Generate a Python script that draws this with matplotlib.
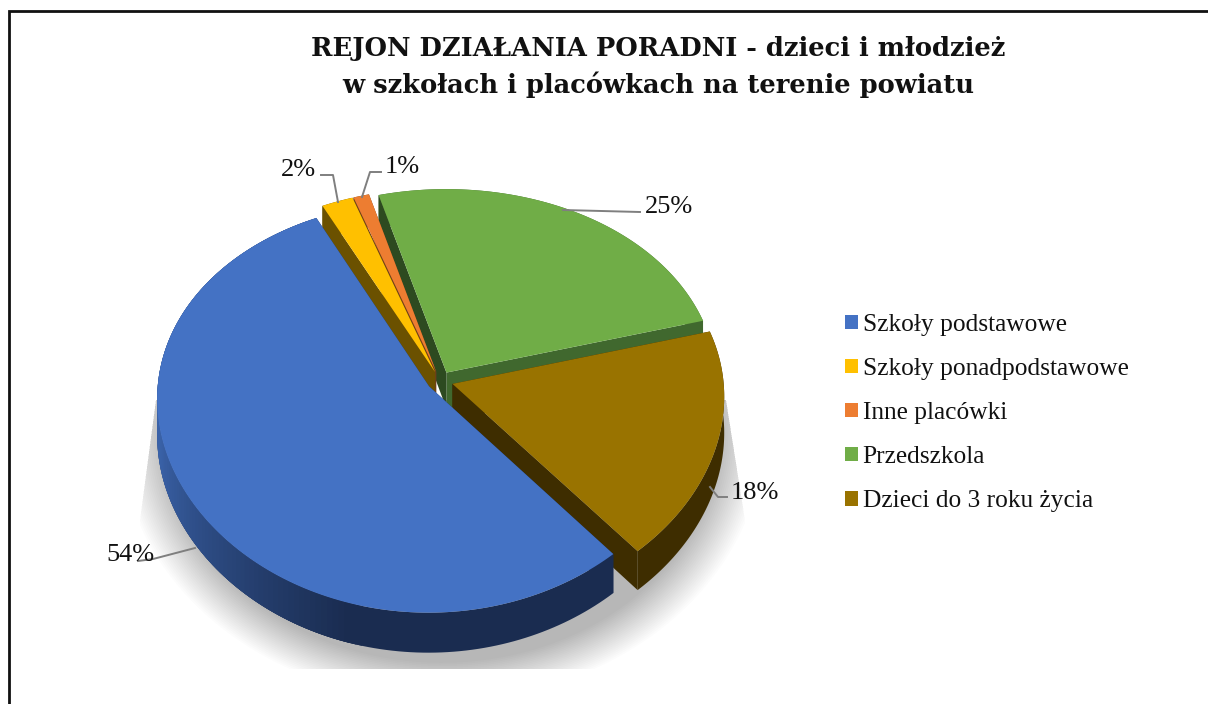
import numpy as np
import matplotlib
matplotlib.use('Agg')
import matplotlib.pyplot as plt
from matplotlib.patches import Patch, Polygon

categories = ['Szkoły podstawowe', 'Szkoły ponadpodstawowe', 'Inne placówki',
              'Przedszkola', 'Dzieci do 3 roku życia']
values = [54, 2, 1, 25, 18]
value_labels = ['54%', '2%', '1%', '25%', '18%']
title = 'REJON DZIAŁANIA PORADNI - dzieci i młodzież\nw szkołach i placówkach na terenie powiatu'

colors = ['#4472C4', '#FFC000', '#ED7D31', '#70AD47', '#997300']
# walls: start edge, end edge, outer arc
wall_colors = [('#1A2C50', '#1A2C50', '#1A2C50'),
               ('#6B5100', '#6B5100', '#6B5100'),
               ('#70401A', '#70401A', '#70401A'),
               ('#2D4A20', '#40682E', '#40682E'),
               ('#3E2D00', '#3E2D00', '#3E2D00')]

# projection of the tilted pie, in pixels of the figure
CX, CY = 440, 381
RX, RY = 271, 203
PERSP = 0.098
PERSP_X = 0.06
DEPTH = 36
EXPLODE = 0.048
START = 310.5


def project(x, y, z=0.0):
    k = 1 + PERSP * y
    return CX + RX * x / (1 + PERSP_X * y), CY - RY * y / k + DEPTH * z / k


plt.rcParams['font.family'] = ['Liberation Serif', 'DejaVu Serif']
fig = plt.figure(figsize=(12.08, 7.04), dpi=100)
ax = fig.add_axes([0, 0, 1, 1])
ax.set_xlim(0, 1208)
ax.set_ylim(704, 0)
ax.axis('off')

# page border, open at the right and bottom
ax.plot([9, 9, 1208], [704, 11, 11], color='#111111', lw=2, solid_joinstyle='miter')

# soft shadow under the pie
clip = Polygon([(156, 400), (140, 520), (140, 669), (745, 669), (745, 520), (726, 400)],
               transform=ax.transData, fill=False, ec='none')
ax.add_patch(clip)
t = np.radians(np.linspace(0, 360, 200))
for s in np.linspace(1.13, 0.97, 24):
    sx = CX + 2 + 285 * s * np.cos(t)
    sy = 432 + 238 * s * np.sin(t)
    p = ax.fill(sx, sy, color='#000000', alpha=0.0125, lw=0, zorder=2)[0]
    p.set_clip_path(clip)

angles = START - np.cumsum([0] + values) * 3.6
starts, ends = angles[:-1], angles[1:]

# painted from the back of the pie to the front
for i in [3, 2, 1, 4, 0]:
    a0, a1 = starts[i], ends[i]
    mid = np.radians((a0 + a1) / 2)
    ox, oy = EXPLODE * np.cos(mid), EXPLODE * np.sin(mid)
    th = np.radians(np.linspace(a0, a1, 160))
    x = ox + np.cos(th)
    y = oy + np.sin(th)

    # outer wall
    wx0, wy0 = project(x, y)
    wx1, wy1 = project(x, y, 1)
    wall = list(zip(np.r_[wx0, wx1[::-1]], np.r_[wy0, wy1[::-1]]))
    ax.add_patch(Polygon(wall, fc=wall_colors[i][2], lw=0, zorder=3))

    # the big slice gets lighter towards the left, quads overlap to hide seams
    if i == 0:
        for j in range(len(th) - 4, -1, -1):
            deg = np.degrees(th[j]) % 360
            f = np.clip((257 - deg) / 62, 0, 1)
            if f == 0:
                continue
            c = np.array([0x1A, 0x2C, 0x50]) / 255 * (1 - f) + np.array([0x3A, 0x62, 0xA8]) / 255 * f
            q = [(wx0[j], wy0[j]), (wx0[j + 3], wy0[j + 3]), (wx1[j + 3], wy1[j + 3]), (wx1[j], wy1[j])]
            ax.add_patch(Polygon(q, fc=tuple(c), lw=0, zorder=3))

    # radial walls
    for px, py, c in [(x[-1], y[-1], wall_colors[i][1]), (x[0], y[0], wall_colors[i][0])]:
        q = [project(ox, oy), project(px, py), project(px, py, 1), project(ox, oy, 1)]
        ax.add_patch(Polygon(q, fc=c, lw=0, zorder=3))

    # top surface
    tx, ty = project(np.r_[ox, x], np.r_[oy, y])
    ax.fill(tx, ty, color=colors[i], lw=0, zorder=3)

# data labels with their leader lines (figure pixels)
label_pos = [(130, 555), (298, 170), (402, 167), (669, 207), (755, 493)]
leaders = [[(195, 548), (153, 559), (138, 561)],
           [(338, 202), (333, 175), (321, 175)],
           [(362, 197), (370, 172), (381, 172)],
           [(563, 210), (640, 212)],
           [(710, 487), (718, 497), (727, 497)]]
for lab, pos, line in zip(value_labels, label_pos, leaders):
    xs, ys = zip(*line)
    ax.plot(xs, ys, color='#7F7F7F', lw=1.4, zorder=4)
    ax.text(pos[0], pos[1], lab, ha='center', va='center', fontsize=19, color='#111111', zorder=5)

ax.text(658, 67, title, ha='center', va='center', fontsize=18.5, fontweight='bold',
        family='DejaVu Serif', color='#111111', linespacing=1.47, zorder=5)

handles = [Patch(fc=c, ec='none') for c in colors]
ax.legend(handles, categories, loc='upper left', bbox_to_anchor=(822, 291),
          bbox_transform=ax.transData, frameon=False, fontsize=18.3, labelcolor='#111111',
          handlelength=0.5, handleheight=0.5, handletextpad=0.2, labelspacing=0.87)

fig.savefig('out.png', dpi=100)
